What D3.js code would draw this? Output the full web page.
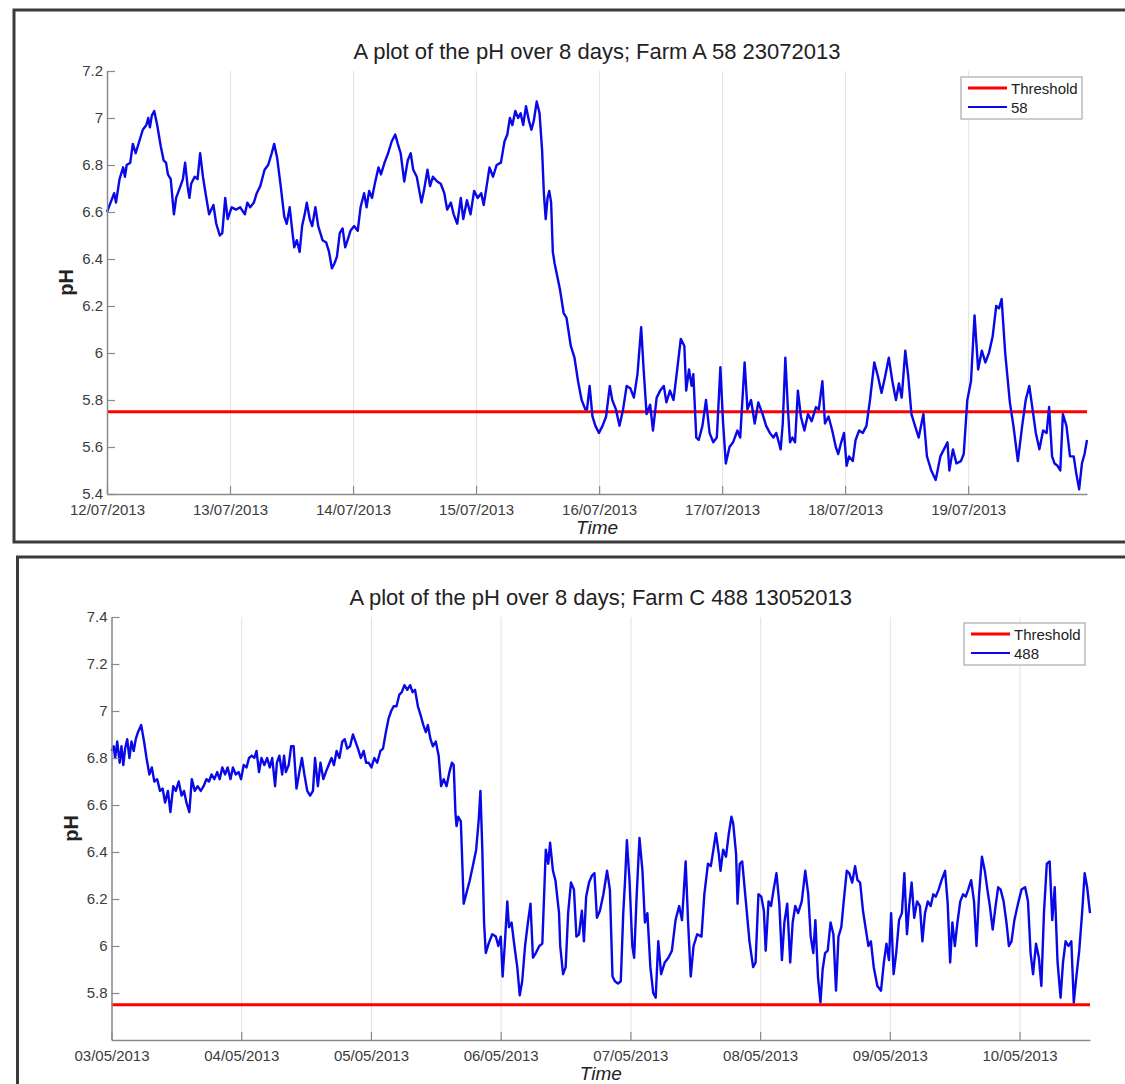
<!DOCTYPE html>
<html>
<head>
<meta charset="utf-8">
<script src="https://cdn.jsdelivr.net/npm/d3@7"></script>
<style>
  body { margin: 0; background: #fff; }
  svg { display: block; font-family: "Liberation Sans", Arial, sans-serif; }
</style>
</head>
<body>
<svg id="chart" width="1125" height="1084"></svg>
<script>
var threshold = 5.75;

// Farm A 58 — days since 12/07/2013 and pH
var farmAStart = "12/07/2013";
var farmADays = [
  0.000, 0.029, 0.058, 0.073, 0.102, 0.131, 0.146, 0.160, 0.189, 0.210,
  0.233, 0.262, 0.291, 0.320, 0.335, 0.349, 0.364, 0.384, 0.408, 0.437,
  0.460, 0.480, 0.495, 0.518, 0.544, 0.562, 0.597, 0.617, 0.635, 0.655,
  0.670, 0.684, 0.713, 0.736, 0.757, 0.780, 0.801, 0.830, 0.865, 0.888,
  0.917, 0.937, 0.961, 0.981, 1.013, 1.048, 1.083, 1.121, 1.141, 1.164,
  1.194, 1.217, 1.246, 1.281, 1.310, 1.339, 1.359, 1.383, 1.412, 1.441,
  1.461, 1.485, 1.508, 1.522, 1.543, 1.566, 1.586, 1.607, 1.624, 1.648,
  1.668, 1.694, 1.717, 1.752, 1.782, 1.805, 1.828, 1.848, 1.869, 1.892,
  1.915, 1.936, 1.956, 1.979, 2.009, 2.038, 2.061, 2.090, 2.110, 2.131,
  2.154, 2.177, 2.207, 2.227, 2.256, 2.285, 2.314, 2.343, 2.364, 2.387,
  2.416, 2.445, 2.469, 2.489, 2.518, 2.556, 2.576, 2.605, 2.626, 2.649,
  2.684, 2.713, 2.742, 2.765, 2.795, 2.818, 2.847, 2.876, 2.896, 2.926,
  2.955, 2.984, 3.013, 3.042, 3.062, 3.086, 3.109, 3.138, 3.167, 3.202,
  3.231, 3.254, 3.275, 3.295, 3.319, 3.342, 3.362, 3.383, 3.406, 3.429,
  3.450, 3.470, 3.493, 3.516, 3.537, 3.551, 3.566, 3.581, 3.595, 3.610,
  3.624, 3.639, 3.682, 3.712, 3.735, 3.770, 3.800, 3.829, 3.858, 3.888,
  3.902, 3.923, 3.946, 3.970, 3.999, 4.028, 4.057, 4.087, 4.107, 4.137,
  4.166, 4.195, 4.224, 4.254, 4.283, 4.312, 4.342, 4.362, 4.386, 4.415,
  4.438, 4.468, 4.497, 4.526, 4.547, 4.576, 4.605, 4.635, 4.664, 4.693,
  4.708, 4.731, 4.752, 4.766, 4.790, 4.810, 4.840, 4.869, 4.898, 4.928,
  4.957, 4.986, 5.007, 5.030, 5.060, 5.089, 5.124, 5.147, 5.183, 5.206,
  5.235, 5.265, 5.294, 5.329, 5.358, 5.388, 5.417, 5.440, 5.476, 5.493,
  5.514, 5.534, 5.552, 5.572, 5.593, 5.616, 5.640, 5.669, 5.698, 5.728,
  5.763, 5.786, 5.815, 5.836, 5.865, 5.895, 5.924, 5.944, 5.968, 5.991,
  6.012, 6.032, 6.062, 6.085, 6.114, 6.144, 6.173, 6.202, 6.237, 6.267,
  6.296, 6.325, 6.355, 6.384, 6.413, 6.437, 6.460, 6.489, 6.513, 6.539,
  6.568, 6.598, 6.636, 6.665, 6.700, 6.736, 6.774, 6.803, 6.832, 6.847,
  6.876, 6.905, 6.941, 6.964, 6.993, 7.023, 7.052, 7.081, 7.111, 7.140,
  7.169, 7.199, 7.228, 7.251, 7.272, 7.301, 7.339, 7.368, 7.404, 7.439,
  7.468, 7.497, 7.521, 7.550, 7.579, 7.609, 7.638, 7.658, 7.682, 7.702,
  7.726, 7.749, 7.770, 7.799, 7.828, 7.858, 7.878, 7.902, 7.925, 7.946,
  7.966
];
var farmAPh = [
  6.60, 6.64, 6.68, 6.64, 6.74, 6.79, 6.75, 6.80, 6.81, 6.89,
  6.85, 6.90, 6.95, 6.97, 7.00, 6.96, 7.01, 7.03, 6.97, 6.88,
  6.82, 6.81, 6.76, 6.74, 6.59, 6.66, 6.71, 6.74, 6.81, 6.71,
  6.66, 6.72, 6.75, 6.74, 6.85, 6.75, 6.68, 6.59, 6.63, 6.55,
  6.50, 6.51, 6.66, 6.57, 6.62, 6.61, 6.62, 6.59, 6.64, 6.62,
  6.64, 6.68, 6.71, 6.78, 6.80, 6.85, 6.89, 6.83, 6.71, 6.58,
  6.55, 6.62, 6.51, 6.45, 6.48, 6.43, 6.54, 6.59, 6.64, 6.57,
  6.54, 6.62, 6.54, 6.48, 6.47, 6.43, 6.36, 6.38, 6.41, 6.51,
  6.53, 6.45, 6.48, 6.52, 6.54, 6.52, 6.62, 6.68, 6.62, 6.69,
  6.66, 6.72, 6.79, 6.76, 6.81, 6.85, 6.90, 6.93, 6.89, 6.85,
  6.73, 6.82, 6.85, 6.78, 6.75, 6.64, 6.69, 6.78, 6.71, 6.75,
  6.73, 6.72, 6.68, 6.61, 6.64, 6.59, 6.55, 6.66, 6.57, 6.65,
  6.59, 6.69, 6.66, 6.68, 6.63, 6.71, 6.79, 6.75, 6.80, 6.81,
  6.90, 6.93, 7.00, 6.97, 7.03, 7.00, 7.02, 6.97, 7.05, 6.99,
  6.95, 6.99, 7.07, 7.02, 6.86, 6.68, 6.57, 6.66, 6.69, 6.64,
  6.43, 6.38, 6.27, 6.17, 6.15, 6.03, 5.98, 5.88, 5.80, 5.76,
  5.76, 5.86, 5.73, 5.69, 5.66, 5.69, 5.73, 5.86, 5.80, 5.76,
  5.69, 5.76, 5.86, 5.85, 5.81, 5.91, 6.11, 5.93, 5.74, 5.78,
  5.67, 5.81, 5.84, 5.86, 5.79, 5.84, 5.80, 5.93, 6.06, 6.03,
  5.84, 5.93, 5.86, 5.91, 5.64, 5.63, 5.69, 5.80, 5.66, 5.62,
  5.64, 5.94, 5.71, 5.53, 5.60, 5.62, 5.67, 5.64, 5.96, 5.76,
  5.80, 5.70, 5.79, 5.74, 5.69, 5.66, 5.64, 5.66, 5.59, 5.70,
  5.98, 5.77, 5.62, 5.64, 5.62, 5.84, 5.73, 5.67, 5.74, 5.71,
  5.77, 5.76, 5.88, 5.70, 5.73, 5.67, 5.60, 5.57, 5.62, 5.66,
  5.52, 5.56, 5.54, 5.63, 5.67, 5.66, 5.69, 5.80, 5.96, 5.90,
  5.83, 5.90, 5.98, 5.88, 5.80, 5.87, 5.81, 6.01, 5.90, 5.74,
  5.69, 5.64, 5.74, 5.56, 5.50, 5.46, 5.56, 5.59, 5.62, 5.50,
  5.59, 5.53, 5.54, 5.57, 5.80, 5.88, 6.16, 5.93, 6.01, 5.96,
  6.00, 6.07, 6.20, 6.19, 6.23, 6.00, 5.79, 5.69, 5.54, 5.69,
  5.80, 5.86, 5.77, 5.66, 5.59, 5.67, 5.66, 5.77, 5.56, 5.53,
  5.52, 5.50, 5.74, 5.69, 5.56, 5.56, 5.49, 5.42, 5.53, 5.57,
  5.63
];
var farmAXTicks = ["12/07/2013", "13/07/2013", "14/07/2013", "15/07/2013",
                   "16/07/2013", "17/07/2013", "18/07/2013", "19/07/2013"];
var farmAYTicks = [5.4, 5.6, 5.8, 6, 6.2, 6.4, 6.6, 6.8, 7, 7.2];

// Farm C 488 — days since 03/05/2013 and pH
var farmCStart = "03/05/2013";
var farmCDays = [
  0.000, 0.017, 0.028, 0.044, 0.063, 0.077, 0.091, 0.105, 0.121, 0.138,
  0.154, 0.171, 0.187, 0.204, 0.229, 0.251, 0.270, 0.292, 0.311, 0.330,
  0.352, 0.374, 0.394, 0.413, 0.435, 0.454, 0.476, 0.496, 0.518, 0.540,
  0.559, 0.578, 0.600, 0.619, 0.642, 0.664, 0.688, 0.710, 0.732, 0.752,
  0.771, 0.793, 0.815, 0.834, 0.854, 0.876, 0.895, 0.917, 0.936, 0.958,
  0.980, 0.999, 1.019, 1.041, 1.060, 1.082, 1.101, 1.118, 1.137, 1.156,
  1.178, 1.200, 1.220, 1.239, 1.261, 1.275, 1.294, 1.316, 1.330, 1.344,
  1.366, 1.385, 1.404, 1.426, 1.448, 1.468, 1.487, 1.509, 1.531, 1.553,
  1.569, 1.591, 1.611, 1.633, 1.652, 1.674, 1.696, 1.715, 1.735, 1.757,
  1.779, 1.798, 1.817, 1.839, 1.861, 1.881, 1.900, 1.922, 1.944, 1.963,
  1.982, 2.004, 2.026, 2.048, 2.073, 2.093, 2.115, 2.137, 2.156, 2.175,
  2.197, 2.219, 2.238, 2.258, 2.280, 2.302, 2.321, 2.340, 2.362, 2.384,
  2.404, 2.423, 2.439, 2.459, 2.478, 2.500, 2.522, 2.541, 2.561, 2.583,
  2.605, 2.624, 2.638, 2.651, 2.660, 2.673, 2.693, 2.715, 2.734, 2.762,
  2.789, 2.811, 2.830, 2.844, 2.858, 2.872, 2.885, 2.907, 2.935, 2.963,
  2.982, 3.001, 3.015, 3.031, 3.051, 3.064, 3.084, 3.106, 3.128, 3.147,
  3.166, 3.188, 3.210, 3.230, 3.249, 3.271, 3.298, 3.321, 3.348, 3.367,
  3.381, 3.403, 3.422, 3.450, 3.459, 3.481, 3.501, 3.520, 3.542, 3.565,
  3.584, 3.604, 3.626, 3.642, 3.659, 3.681, 3.704, 3.723, 3.742, 3.765,
  3.792, 3.820, 3.842, 3.862, 3.881, 3.904, 3.926, 3.945, 3.959, 3.973,
  3.993, 4.015, 4.029, 4.048, 4.070, 4.093, 4.112, 4.131, 4.154, 4.176,
  4.195, 4.215, 4.237, 4.265, 4.293, 4.320, 4.348, 4.376, 4.398, 4.426,
  4.445, 4.465, 4.487, 4.515, 4.548, 4.570, 4.598, 4.620, 4.640, 4.659,
  4.682, 4.695, 4.715, 4.737, 4.759, 4.779, 4.793, 4.815, 4.826, 4.843,
  4.862, 4.890, 4.918, 4.946, 4.965, 4.987, 5.009, 5.029, 5.043, 5.065,
  5.084, 5.104, 5.126, 5.148, 5.168, 5.187, 5.209, 5.232, 5.251, 5.271,
  5.293, 5.321, 5.348, 5.371, 5.390, 5.410, 5.426, 5.446, 5.465, 5.482,
  5.501, 5.521, 5.543, 5.565, 5.585, 5.604, 5.626, 5.648, 5.668, 5.687,
  5.710, 5.732, 5.751, 5.771, 5.793, 5.815, 5.835, 5.854, 5.876, 5.904,
  5.932, 5.954, 5.974, 5.993, 6.010, 6.029, 6.049, 6.071, 6.093, 6.112,
  6.132, 6.149, 6.168, 6.188, 6.210, 6.232, 6.251, 6.271, 6.293, 6.315,
  6.335, 6.354, 6.376, 6.399, 6.426, 6.446, 6.465, 6.482, 6.501, 6.521,
  6.543, 6.565, 6.585, 6.604, 6.627, 6.649, 6.668, 6.688, 6.710, 6.732,
  6.752, 6.771, 6.793, 6.815, 6.835, 6.854, 6.877, 6.899, 6.918, 6.938,
  6.960, 6.988, 7.015, 7.043, 7.065, 7.085, 7.104, 7.127, 7.149, 7.168,
  7.188, 7.210, 7.232, 7.252, 7.271, 7.293, 7.316, 7.335, 7.355, 7.377,
  7.399, 7.418, 7.438, 7.460, 7.482, 7.502, 7.521, 7.543
];
var farmCPh = [
  6.83, 6.85, 6.80, 6.87, 6.78, 6.85, 6.77, 6.84, 6.88, 6.80,
  6.87, 6.83, 6.88, 6.91, 6.94, 6.87, 6.80, 6.73, 6.76, 6.70,
  6.71, 6.66, 6.67, 6.61, 6.66, 6.57, 6.68, 6.66, 6.70, 6.64,
  6.66, 6.61, 6.57, 6.71, 6.66, 6.68, 6.66, 6.68, 6.71, 6.70,
  6.73, 6.71, 6.74, 6.71, 6.76, 6.73, 6.76, 6.71, 6.76, 6.73,
  6.74, 6.71, 6.77, 6.76, 6.80, 6.81, 6.80, 6.83, 6.74, 6.80,
  6.77, 6.80, 6.76, 6.80, 6.68, 6.78, 6.81, 6.73, 6.81, 6.74,
  6.77, 6.85, 6.85, 6.67, 6.74, 6.80, 6.73, 6.66, 6.64, 6.66,
  6.80, 6.68, 6.78, 6.71, 6.74, 6.77, 6.80, 6.77, 6.83, 6.80,
  6.87, 6.88, 6.84, 6.85, 6.90, 6.87, 6.84, 6.80, 6.83, 6.78,
  6.78, 6.76, 6.80, 6.78, 6.83, 6.84, 6.91, 6.97, 7.00, 7.02,
  7.02, 7.07, 7.08, 7.11, 7.09, 7.11, 7.08, 7.09, 7.02, 6.98,
  6.94, 6.91, 6.94, 6.88, 6.85, 6.87, 6.81, 6.68, 6.71, 6.68,
  6.74, 6.78, 6.77, 6.57, 6.51, 6.55, 6.53, 6.18, 6.22, 6.28,
  6.35, 6.41, 6.53, 6.66, 6.42, 6.10, 5.97, 6.01, 6.05, 6.04,
  6.00, 6.04, 5.87, 6.00, 6.19, 6.08, 6.10, 6.00, 5.91, 5.79,
  5.85, 6.00, 6.10, 6.18, 5.95, 5.97, 6.00, 6.01, 6.41, 6.35,
  6.44, 6.32, 6.28, 6.14, 6.00, 5.88, 5.91, 6.14, 6.27, 6.24,
  6.04, 6.05, 6.15, 6.02, 6.21, 6.27, 6.30, 6.31, 6.12, 6.15,
  6.22, 6.32, 6.24, 5.87, 5.85, 5.84, 5.85, 6.14, 6.28, 6.45,
  6.28, 6.00, 5.95, 6.21, 6.46, 6.32, 6.10, 6.14, 5.91, 5.80,
  5.78, 6.02, 5.88, 5.93, 5.95, 5.98, 6.11, 6.17, 6.11, 6.36,
  6.10, 5.87, 6.00, 6.05, 6.04, 6.22, 6.35, 6.34, 6.41, 6.48,
  6.39, 6.32, 6.41, 6.38, 6.48, 6.55, 6.52, 6.39, 6.18, 6.35,
  6.36, 6.19, 6.02, 5.91, 5.93, 6.22, 6.21, 6.15, 5.98, 6.19,
  6.17, 6.24, 6.31, 6.18, 5.94, 6.10, 6.18, 5.93, 6.10, 6.17,
  6.14, 6.19, 6.32, 6.22, 6.04, 5.97, 6.11, 5.87, 5.76, 5.90,
  5.97, 5.98, 6.10, 6.05, 5.81, 6.04, 6.08, 6.21, 6.32, 6.31,
  6.27, 6.34, 6.28, 6.27, 6.15, 6.07, 6.00, 6.02, 5.91, 5.83,
  5.81, 5.93, 6.01, 5.94, 6.14, 5.88, 5.97, 6.11, 6.14, 6.31,
  6.05, 6.17, 6.27, 6.12, 6.19, 6.17, 6.02, 6.14, 6.19, 6.17,
  6.22, 6.21, 6.24, 6.28, 6.32, 6.18, 5.93, 6.10, 6.00, 6.10,
  6.19, 6.22, 6.21, 6.24, 6.28, 6.19, 6.00, 6.22, 6.38, 6.32,
  6.24, 6.17, 6.07, 6.17, 6.25, 6.24, 6.19, 6.10, 6.00, 6.02,
  6.11, 6.18, 6.24, 6.25, 6.19, 5.97, 5.88, 6.01, 5.95, 5.83,
  6.14, 6.35, 6.36, 6.11, 6.25, 5.93, 5.78, 5.93, 6.02, 6.00,
  6.02, 5.76, 5.87, 5.98, 6.14, 6.31, 6.25, 6.14
];
var farmCXTicks = ["03/05/2013", "04/05/2013", "05/05/2013", "06/05/2013",
                   "07/05/2013", "08/05/2013", "09/05/2013", "10/05/2013"];
var farmCYTicks = [5.8, 6, 6.2, 6.4, 6.6, 6.8, 7, 7.2, 7.4];

var parseDay = d3.timeParse("%d/%m/%Y");
var svg = d3.select("#chart");

drawPanel(svg, {
  title: "A plot of the pH over 8 days; Farm A 58 23072013",
  name: "58", start: farmAStart, days: farmADays, ph: farmAPh,
  xTicks: farmAXTicks, yTicks: farmAYTicks, yDomain: [5.4, 7.2],
  left: 107, right: 1087, top: 71, bottom: 494, titleY: 59,
  frameTop: 10, frameLeft: 14, frameBottom: 542
});

drawPanel(svg, {
  title: "A plot of the pH over 8 days; Farm C 488 13052013",
  name: "488", start: farmCStart, days: farmCDays, ph: farmCPh,
  xTicks: farmCXTicks, yTicks: farmCYTicks, yDomain: [5.6, 7.4],
  left: 111.5, right: 1090, top: 617, bottom: 1040, titleY: 605,
  frameTop: 557, frameLeft: 17.5, frameBottom: null
});

function drawPanel(svg, p) {
  var start = parseDay(p.start);
  var dates = p.days.map(function (d) {
    return new Date(start.getTime() + d * 864e5);
  });
  var x = d3.scaleTime()
      .domain([start, dates[dates.length - 1]])
      .range([p.left, p.right]);
  var y = d3.scaleLinear().domain(p.yDomain).range([p.bottom, p.top]);
  var tickDates = p.xTicks.map(parseDay);
  var g = svg.append("g");

  // outer frame (screenshot border)
  var frame = "M1125," + p.frameTop + "H" + p.frameLeft;
  frame += p.frameBottom === null ? "V1084" : "V" + p.frameBottom + "H1125";
  g.append("path")
      .attr("d", frame)
      .attr("fill", "none")
      .attr("stroke", "#3a3a3a")
      .attr("stroke-width", 3);

  // vertical grid
  g.append("g")
      .attr("transform", "translate(0," + p.bottom + ")")
      .call(d3.axisBottom(x).tickValues(tickDates)
          .tickSize(-(p.bottom - p.top)).tickFormat(""))
      .call(function (s) {
        s.select(".domain").remove();
        s.selectAll("line").attr("stroke", "#e2e2e2").attr("stroke-width", 1);
      });

  // threshold
  g.append("line")
      .attr("x1", x.range()[0]).attr("x2", x.range()[1])
      .attr("y1", y(threshold)).attr("y2", y(threshold))
      .attr("stroke", "#ff0000")
      .attr("stroke-width", 3);

  // pH series
  var line = d3.line()
      .x(function (d, i) { return x(dates[i]); })
      .y(function (d) { return y(d); });
  g.append("path")
      .datum(p.ph)
      .attr("d", line)
      .attr("fill", "none")
      .attr("stroke", "#0808e8")
      .attr("stroke-width", 2.4)
      .attr("stroke-linejoin", "round");

  // axes
  var xAxis = d3.axisBottom(x)
      .tickValues(tickDates)
      .tickFormat(function (d, i) { return p.xTicks[i]; })
      .tickSizeInner(-8).tickSizeOuter(0).tickPadding(10);
  var yAxis = d3.axisLeft(y)
      .tickValues(p.yTicks)
      .tickFormat(d3.format("~g"))
      .tickSizeInner(-8).tickSizeOuter(0).tickPadding(4);

  [[xAxis, "translate(0," + p.bottom + ")"],
   [yAxis, "translate(" + p.left + ",0)"]].forEach(function (a) {
    g.append("g")
        .attr("transform", a[1])
        .call(a[0])
        .call(function (s) {
          s.select(".domain").attr("stroke", "#8a8a8a").attr("stroke-width", 1.5);
          s.selectAll(".tick line").attr("stroke", "#8a8a8a").attr("stroke-width", 1.2);
          s.selectAll("text")
              .attr("fill", "#3c3c3c")
              .style("font-size", "15px")
              .attr("font-family", "Liberation Sans, Arial, sans-serif");
        });
  });

  var cx = (p.left + p.right) / 2;
  g.append("text")
      .attr("x", cx).attr("y", p.titleY)
      .attr("text-anchor", "middle")
      .attr("fill", "#222")
      .style("font-size", "22px")
      .text(p.title);

  g.append("text")
      .attr("x", cx).attr("y", p.bottom + 40)
      .attr("text-anchor", "middle")
      .attr("fill", "#222")
      .style("font-size", "19px")
      .style("font-style", "italic")
      .text("Time");

  g.append("text")
      .attr("transform", "translate(" + (p.left - 34) + "," + ((p.top + p.bottom) / 2) + ")rotate(-90)")
      .attr("text-anchor", "middle")
      .attr("fill", "#222")
      .style("font-size", "20px")
      .style("font-weight", "bold")
      .text("pH");

  // legend
  var legend = g.append("g")
      .attr("transform", "translate(" + (p.right - 126) + "," + (p.top + 6) + ")");
  legend.append("rect")
      .attr("width", 121).attr("height", 42)
      .attr("fill", "#fff")
      .attr("stroke", "#9a9a9a");
  var items = [["Threshold", "#ff0000", 3], [p.name, "#0808e8", 2]];
  items.forEach(function (it, i) {
    legend.append("line")
        .attr("x1", 7).attr("x2", 46)
        .attr("y1", 11 + i * 19).attr("y2", 11 + i * 19)
        .attr("stroke", it[1]).attr("stroke-width", it[2]);
    legend.append("text")
        .attr("x", 50).attr("y", 17 + i * 19)
        .attr("fill", "#222")
        .style("font-size", "15px")
        .text(it[0]);
  });
}
</script>
</body>
</html>
